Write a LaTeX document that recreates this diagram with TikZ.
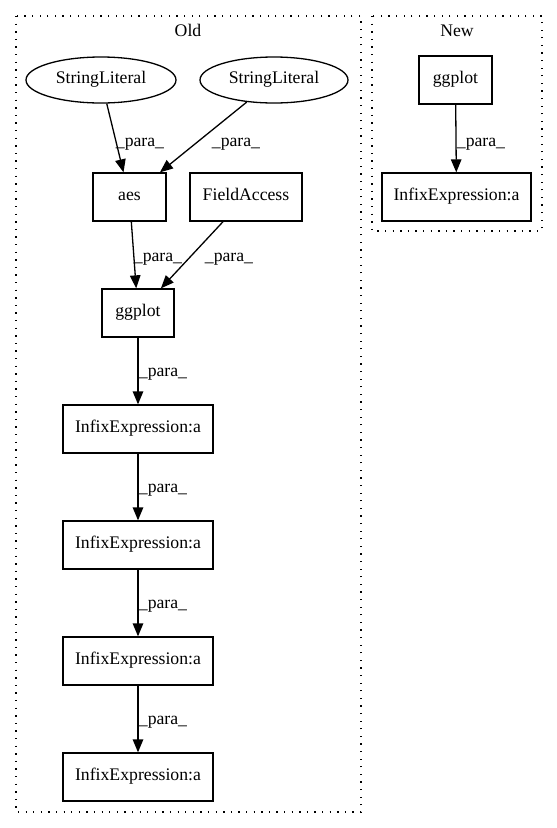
\documentclass[tikz,border=0pt]{standalone}
\usepackage{fontspec}
\setmainfont{Liberation Serif}
\usetikzlibrary{arrows.meta,shapes.geometric}
\begin{document}
\begin{tikzpicture}[x=1pt,y=-1pt,
  every node/.style={font=\fontsize{17.7}{20}\selectfont},
  box/.style={draw, line width=1.3pt, rectangle, inner sep=0pt, minimum height=48pt, text height=0.84em, text depth=0.16em},
  oval/.style={draw, line width=1.3pt, ellipse, inner sep=0pt, minimum height=46pt, text height=0.84em, text depth=0.16em},
  edge/.style={draw, line width=1.3pt, -{Triangle[length=13pt,width=10.5pt]}},
  lab/.style={anchor=base, inner sep=0pt},
  cluster/.style={draw, line width=1.3pt, dash pattern=on 1.3pt off 6.3pt}
]
\useasboundingbox (0,0) rectangle (557,828);
% clusters
\draw[cluster] (16,16) rectangle (361,812);
\draw[cluster] (372,16) rectangle (542,231);
\node[lab] (oldt) at (188,36) {Old};
\node[lab] (newt) at (457,36) {New};
% Old nodes
\node[oval, minimum width=150pt] (sl1) at (101,80) {StringLiteral};
\node[oval, minimum width=148pt] (sl2) at (274,80) {StringLiteral};
\node[box, minimum width=73pt] (aes) at (129.5,197) {aes};
\node[box, minimum width=112pt] (fa) at (246,197) {FieldAccess};
\node[box, minimum width=72pt] (gg) at (138,313) {ggplot};
\node[box, minimum width=150pt] (i1) at (138,429) {InfixExpression:a};
\node[box, minimum width=150pt] (i2) at (138,545) {InfixExpression:a};
\node[box, minimum width=150pt] (i3) at (138,661) {InfixExpression:a};
\node[box, minimum width=150pt] (i4) at (138,777) {InfixExpression:a};
% New nodes
\node[box, minimum width=73pt] (ngg) at (455.5,80) {ggplot};
\node[box, minimum width=149pt] (ni) at (456.5,197) {InfixExpression:a};
% edges
\draw[edge] (sl1) -- (aes);
\draw[edge] (sl2) -- (aes);
\draw[edge] (aes) -- (gg);
\draw[edge] (fa) -- (gg);
\draw[edge] (gg) -- (i1);
\draw[edge] (i1) -- (i2);
\draw[edge] (i2) -- (i3);
\draw[edge] (i3) -- (i4);
\draw[edge] (ngg) -- (ni);
% labels
\node[lab] (l1) at (140,146) {\_para\_};
\node[lab] (l2) at (236,146) {\_para\_};
\node[lab] (l3) at (158,261) {\_para\_};
\node[lab] (l4) at (229,261) {\_para\_};
\node[lab] (l5) at (163,376) {\_para\_};
\node[lab] (l6) at (163,492) {\_para\_};
\node[lab] (l7) at (163,608) {\_para\_};
\node[lab] (l8) at (163,724) {\_para\_};
\node[lab] (l9) at (481,146) {\_para\_};
\end{tikzpicture}
\end{document}
